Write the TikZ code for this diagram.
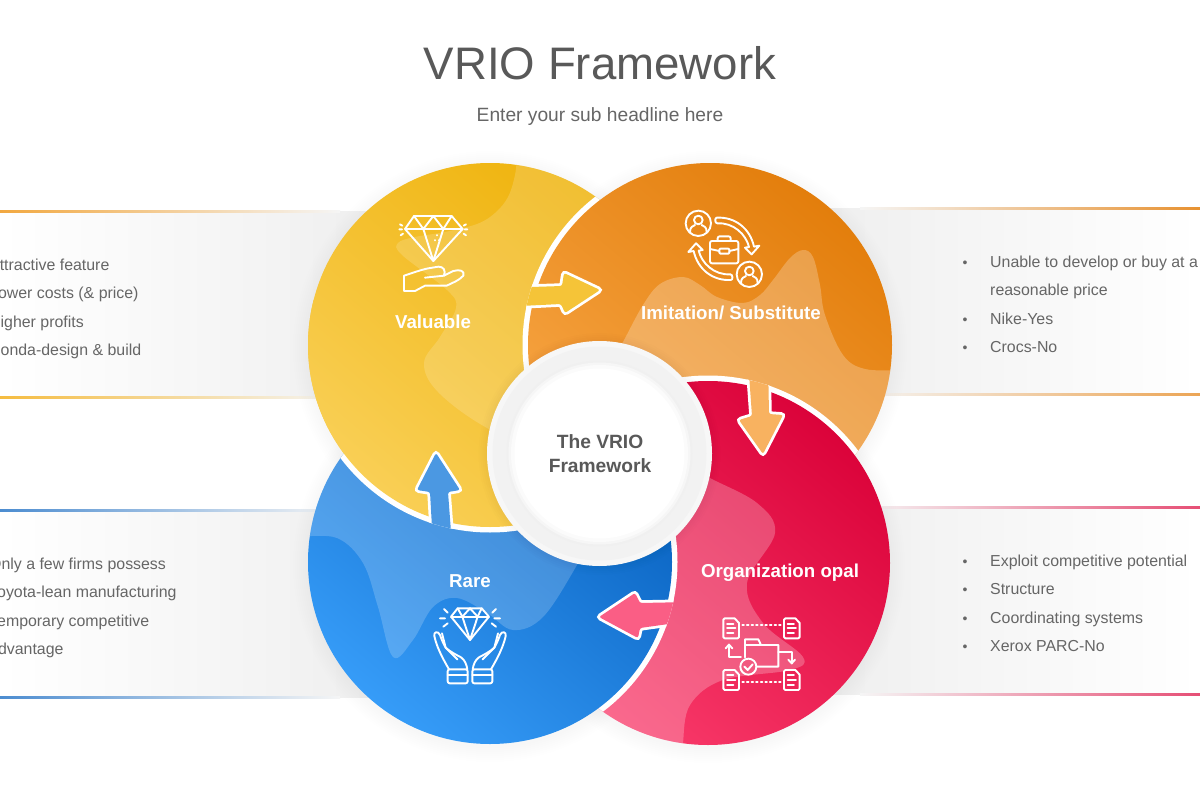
\documentclass[tikz,border=0pt]{standalone}
\usepackage{fontspec}
\setmainfont{Liberation Sans}
\definecolor{txt}{HTML}{666666}
\definecolor{ttl}{HTML}{595959}
\definecolor{yA}{HTML}{EFB30C}\definecolor{yB}{HTML}{F9CF55}
\definecolor{oA}{HTML}{E37E0C}\definecolor{oB}{HTML}{F7A544}
\definecolor{rA}{HTML}{DB033A}\definecolor{rB}{HTML}{F93A6A}
\definecolor{bA}{HTML}{0760BE}\definecolor{bB}{HTML}{369CF8}
\definecolor{pnl}{HTML}{EFEFEF}
\definecolor{lineO}{HTML}{F2A840}
\definecolor{lineY}{HTML}{F5BC40}
\tikzset{
  x=1pt,y=-1pt,
  ico/.style={draw=white,line width=1.9pt,line cap=round,line join=round},
  izoom/.style={x=0.33333pt,y=-0.33333pt},
  bodytext/.style={anchor=base west,text=txt,font=\fontsize{15.9}{19}\selectfont,inner sep=0pt},
  bullet/.style={anchor=base,text=txt,font=\fontsize{14}{19}\selectfont,inner sep=0pt},
  disclabel/.style={text=white,font=\fontsize{18.7}{22}\bfseries\selectfont,inner sep=0pt},
  arrowshape/.style={rounded corners=2.2pt}
}
\newcommand\cY{(490,345)}\newcommand\cO{(710,345)}\newcommand\cR{(708,563)}\newcommand\cB{(490,562)}
\newcommand\discY{\begin{scope}\clip \cY circle[radius=182pt];
  \shade[top color=yA,bottom color=yB,shading angle=-40] \cY circle[radius=182pt];
  \fill[white,opacity=.16] plot[smooth,tension=.6] coordinates{(517,155)(515,175)(508,197)(495,213)(477,224)(445,232)(415,237)(398,243)(402,255)(447,290)(456,308)(440,337)(424,363)(438,392)(487,428)(560,460)} -- (700,500) -- (700,100) -- cycle;
  \end{scope}}
\newcommand\discO{\begin{scope}\clip \cO circle[radius=182pt];
  \shade[top color=oA,bottom color=oB,shading angle=-40] \cO circle[radius=182pt];
  \fill[white,opacity=.24] plot[smooth,tension=.6] coordinates{(610,365)(623,342)(643,305)(660,284)(683,277)(700,285)(717,297)(743,303)(760,295)(773,280)(790,258)(803,250)(813,257)(820,285)(825,315)(843,355)(865,369)(900,370)} -- (900,600) -- (610,600) -- cycle;
  \end{scope}}
\newcommand\discR{\begin{scope}\clip \cR circle[radius=182pt];
  \shade[top color=rA,bottom color=rB,shading angle=-40] \cR circle[radius=182pt];
  \fill[white,opacity=.24] plot[smooth,tension=.6] coordinates{(700,470)(710,478)(757,503)(775,533)(747,583)(763,623)(803,657)(790,670)(723,680)(690,705)(683,743)(683,760)} -- (500,760) -- (500,470) -- cycle;
  \end{scope}}
\newcommand\discB{\begin{scope}\clip \cB circle[radius=182pt];
  \shade[top color=bA,bottom color=bB,shading angle=-40] \cB circle[radius=182pt];
  \fill[white,opacity=.19] plot[smooth,tension=.6] coordinates{(300,537)(337,538)(363,563)(378,607)(393,657)(413,640)(433,607)(457,598)(487,613)(513,630)(543,617)(577,565)(600,520)} -- (600,350) -- (300,350) -- cycle;
  \end{scope}}
\newcommand\docz[1]{\begin{scope}[shift={#1}]
  \draw[ico] (0,4) -- (0,56) -- (4,60) -- (43,60) -- (47,56) -- (47,14) -- (34,0) -- (4,0) -- cycle;
  \draw[ico] (11,16) -- (30,16) (11,30) -- (36,30) (11,44) -- (30,44);
  \end{scope}}
\newcommand\personz[2]{\draw[ico] (#1,#2) circle[radius=38];
  \draw[ico] (#1,#2-10) circle[radius=13];
  \draw[ico] (#1-25,#2+25) .. controls (#1-25,#2+10) and (#1-15,#2+8) .. (#1-10,#2+5) (#1+10,#2+5) .. controls (#1+15,#2+8) and (#1+25,#2+10) .. (#1+25,#2+25);}
\newcommand\bandz{\draw[ico] (110,38) .. controls (165,35) and (210,70) .. (222,125) -- (238,122) -- (215,148) -- (195,128) -- (207,126) .. controls (198,88) and (160,52) .. (112,55) .. controls (104,55) and (104,38) .. (110,38);}
\newcommand\handz{\draw[ico] (-63,208) .. controls (-85,170) and (-100,140) .. (-107,108) .. controls (-110,95) and (-95,92) .. (-90,105) .. controls (-85,120) and (-80,130) .. (-73,143) .. controls (-60,155) and (-40,165) .. (-27,172) .. controls (-15,180) and (-10,195) .. (-8,208);
  \draw[ico] (-84,100) -- (-73,143) -- (-38,178);
  \draw[ico,rounded corners=2pt] (-67,208) -- (-7,208) -- (-7,250) -- (-67,250) -- cycle;
  \draw[ico] (-67,226) -- (-7,226);}
\begin{document}
\begin{tikzpicture}
\useasboundingbox (0,0) rectangle (1200,800);
\clip (0,0) rectangle (1200,800);
\fill[white] (0,0) rectangle (1200,800);
% panels
\shade[left color=white,right color=pnl] (0,211) rectangle (370,397);
\shade[left color=white,right color=pnl] (0,510) rectangle (370,697);
\shade[left color=pnl,right color=white] (830,208) rectangle (1200,394);
\shade[left color=pnl,right color=white] (830,507) rectangle (1200,694);
\shade[left color=lineO,right color=pnl!60!white] (0,210) rectangle (340,212);
\shade[left color=lineY,right color=pnl!60!white] (0,396) rectangle (340,398);
\shade[left color=bA!72!white,right color=pnl!60!white] (0,509) rectangle (340,511);
\shade[left color=bA!72!white,right color=pnl!60!white] (0,696) rectangle (340,698);
\shade[left color=pnl!60!white,right color=oA!85!white] (860,207) rectangle (1200,209);
\shade[left color=pnl!60!white,right color=oA!70!white] (860,393) rectangle (1200,395);
\shade[left color=pnl!60!white,right color=rA!70!white] (860,506) rectangle (1200,508);
\shade[left color=pnl!60!white,right color=rA!70!white] (860,693) rectangle (1200,695);
% soft shadows
\foreach \r in {183,185,...,197}{
  \fill[black,opacity=.004] (490,348) circle[radius=\r pt];
  \fill[black,opacity=.004] (710,348) circle[radius=\r pt];
  \fill[black,opacity=.004] (708,566) circle[radius=\r pt];
  \fill[black,opacity=.004] (490,565) circle[radius=\r pt];
}
% title
\node[text=ttl,font=\fontsize{45.6}{52}\selectfont,inner sep=0pt] (title) at (600,63) {VRIO Framework};
\node[text=txt,font=\fontsize{19.2}{24}\selectfont,inner sep=0pt] (subtitle) at (600,117) {Enter your sub headline here};
% panel texts
\node[bodytext] (l1) at (-11,270) {Attractive feature};
\node[bodytext] (l2) at (-11,298.5) {Lower costs (\& price)};
\node[bodytext] (l3) at (-11,327.5) {Higher profits};
\node[bodytext] (l4) at (-11,355.5) {Honda-design \& build};
\node[bodytext] (l5) at (-11,569.5) {Only a few firms possess};
\node[bodytext] (l6) at (-11,597.5) {Toyota-lean manufacturing};
\node[bodytext] (l7) at (-11,626.5) {Temporary competitive};
\node[bodytext] (l8) at (-11,654.5) {advantage};
\node[bullet] (b1) at (965,267) {•};
\node[bodytext] (r1) at (990,267.5) {Unable to develop or buy at a};
\node[bodytext] (r1b) at (990,295.5) {reasonable price};
\node[bullet] (b2) at (965,324) {•};
\node[bodytext] (r2) at (990,324.5) {Nike-Yes};
\node[bullet] (b3) at (965,352) {•};
\node[bodytext] (r3) at (990,352.5) {Crocs-No};
\node[bullet] (b4) at (965,566) {•};
\node[bodytext] (r4) at (990,566.5) {Exploit competitive potential};
\node[bullet] (b5) at (965,594) {•};
\node[bodytext] (r5) at (990,594.5) {Structure};
\node[bullet] (b6) at (965,623) {•};
\node[bodytext] (r6) at (990,623.5) {Coordinating systems};
\node[bullet] (b7) at (965,651) {•};
\node[bodytext] (r7) at (990,651.5) {Xerox PARC-No};
% discs
\discY
\begin{scope}\clip \cY circle[radius=182pt]; \draw[white,line width=11pt] \cO circle[radius=182pt]; \end{scope}
\discO
\begin{scope}\clip \cO circle[radius=182pt]; \draw[white,line width=11pt] \cR circle[radius=182pt]; \end{scope}
\discR
\begin{scope}\clip \cR circle[radius=182pt]; \draw[white,line width=11pt] \cB circle[radius=182pt]; \end{scope}
\discB
\begin{scope}
  \clip (0,300) -- (520,300) -- (520,453) -- (600,453) -- (600,600) -- (0,600) -- cycle;
  \begin{scope}\clip \cB circle[radius=182pt]; \draw[white,line width=11pt] \cY circle[radius=182pt]; \end{scope}
  \discY
\end{scope}
% arrows
\begin{scope}\clip \cO circle[radius=187.5pt];
  \draw[white,line width=5.5pt,arrowshape] (500,288) -- (562,286) -- (564,273) -- (600,290) -- (565,313) -- (561,304) -- (500,307) -- cycle;
  \fill[yA!40!yB,arrowshape] (500,288) -- (562,286) -- (564,273) -- (600,290) -- (565,313) -- (561,304) -- (500,307) -- cycle;
\end{scope}
\begin{scope}\clip \cR circle[radius=187.5pt];
  \draw[white,line width=5.5pt,arrowshape] (748,360) -- (752,416) -- (739,420) -- (763,454) -- (783,415) -- (769,414) -- (768,360) -- cycle;
  \fill[oB!85!white,arrowshape] (748,360) -- (752,416) -- (739,420) -- (763,454) -- (783,415) -- (769,414) -- (768,360) -- cycle;
\end{scope}
\begin{scope}\clip \cB circle[radius=187.5pt];
  \draw[white,line width=5.5pt,arrowshape] (690,602) -- (640,603) -- (635,593) -- (599,617) -- (638,638) -- (640,628) -- (690,621) -- cycle;
  \fill[rB!82!white,arrowshape] (690,602) -- (640,603) -- (635,593) -- (599,617) -- (638,638) -- (640,628) -- (690,621) -- cycle;
\end{scope}
\begin{scope}\clip \cY circle[radius=187.5pt];
  \draw[white,line width=5.5pt,arrowshape] (433,545) -- (430,492) -- (417,490) -- (436,453) -- (460,490) -- (448,492) -- (452,545) -- cycle;
  \fill[bA!50!bB!80!white,arrowshape] (433,545) -- (430,492) -- (417,490) -- (436,453) -- (460,490) -- (448,492) -- (452,545) -- cycle;
\end{scope}
% centre
\foreach \r in {113,115,...,121}{\fill[black,opacity=.008] (599.5,454) circle[radius=\r pt];}
\fill[white!97!black] (599.5,453.5) circle[radius=112.5pt];
\fill[white!95!black] (599.5,453.5) circle[radius=107pt];
\fill[white!94!black] (599.5,453.5) circle[radius=93pt];
\fill[white!96.5!black] (599.5,453.5) circle[radius=91pt];
\fill[white!98.5!black] (599.5,453.5) circle[radius=88.5pt];
\fill[white] (599.5,453.5) circle[radius=85pt];
\node[text=ttl,font=\fontsize{19.2}{24}\bfseries\selectfont,align=center,inner sep=0pt] (centre) at (600,453.5) {The VRIO\\Framework};
% disc labels
\node[disclabel] (valuable) at (433,322) {Valuable};
\node[disclabel] (imitation) at (731,313) {Imitation/ Substitute};
\node[disclabel] (rare) at (470,581) {Rare};
\node[disclabel] (org) at (780,572.5) {Organization opal};
% icon 1 diamond in hand
\begin{scope}[shift={(390,205)},izoom]
  \draw[ico] (72,33) -- (185,33) -- (218,72) -- (130,168) -- (45,72) -- cycle;
  \draw[ico] (45,72) -- (218,72);
  \draw[ico] (72,33) -- (100,72) -- (130,33) -- (160,72) -- (185,33);
  \draw[ico] (100,72) -- (130,168) -- (160,72);
  \draw[ico] (30,58) -- (37,62) (28,73) -- (36,73) (32,91) -- (39,86);
  \draw[ico] (228,58) -- (221,62) (232,73) -- (224,73) (228,91) -- (221,86);
  \draw[ico] (140,90) -- (140,91) (134,105) -- (134,106) (146,105) -- (146,106);
  \draw[ico] (42,212) -- (42,258) -- (75,258) -- (105,242) -- (170,242) .. controls (190,232) and (205,228) .. (220,212) .. controls (225,198) and (210,192) .. (190,198) -- (162,212) .. controls (168,195) and (160,185) .. (145,185) -- (115,190) .. controls (90,195) and (65,205) .. (42,212);
  \draw[ico] (105,218) -- (162,212);
\end{scope}
% icon 2 people and briefcase
\begin{scope}[shift={(680,205)},izoom]
  \personz{55}{55}
  \personz{208}{208}
  \bandz
  \begin{scope}[shift={(263,263)},xscale=-1,yscale=-1]
    \bandz
  \end{scope}
  \draw[ico,rounded corners=2pt] (90,108) -- (175,108) -- (175,175) -- (90,175) -- cycle;
  \draw[ico,rounded corners=2pt] (113,108) -- (113,94) -- (152,94) -- (152,108);
  \draw[ico] (90,132) -- (118,138) (148,138) -- (175,132);
  \draw[ico,rounded corners=1pt] (118,131) -- (148,131) -- (148,146) -- (118,146) -- cycle;
\end{scope}
% icon 3 diamond over hands
\begin{scope}[shift={(425,600)},izoom]
  \draw[ico] (98,25) -- (170,25) -- (192,50) -- (135,120) -- (78,50) -- cycle;
  \draw[ico] (78,50) -- (192,50);
  \draw[ico] (98,25) -- (112,50) -- (135,25) -- (158,50) -- (170,25);
  \draw[ico] (112,50) -- (135,120) -- (158,50);
  \draw[ico] (57,27) -- (68,38) (45,55) -- (60,55) (55,80) -- (68,70);
  \draw[ico] (213,27) -- (202,38) (225,55) -- (208,55) (213,80) -- (200,70);
  \begin{scope}[shift={(135,0)}]
    \handz
  \end{scope}
  \begin{scope}[shift={(135,0)},xscale=-1]
    \handz
  \end{scope}
\end{scope}
% icon 4 documents and folder
\begin{scope}[shift={(715,610)},izoom]
  \docz{(25,25)}
  \docz{(207,25)}
  \docz{(25,180)}
  \docz{(207,180)}
  \draw[ico,dash pattern=on 1.6pt off 3pt] (82,45) -- (198,45) (82,215) -- (198,215);
  \draw[ico] (90,142) -- (90,88) -- (130,88) -- (138,105) -- (190,105) -- (190,170) -- (125,170);
  \draw[ico] (90,105) -- (138,105);
  \draw[ico] (100,170) circle[radius=24];
  \draw[ico] (88,170) -- (98,180) -- (113,163);
  \draw[ico] (78,142) -- (42,142) -- (42,104);
  \draw[ico] (32,115) -- (42,104) -- (52,115);
  \draw[ico] (190,125) -- (230,125) -- (230,160);
  \draw[ico] (220,149) -- (230,160) -- (240,149);
\end{scope}
\end{tikzpicture}
\end{document}
